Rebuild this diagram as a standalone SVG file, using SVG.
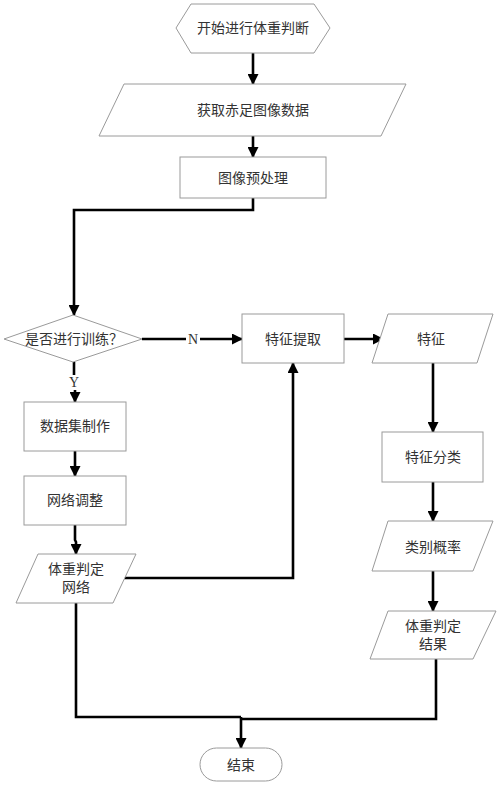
<svg xmlns="http://www.w3.org/2000/svg" width="500" height="786" viewBox="0 0 500 786">
<style>
.s{fill:#fff;stroke:#9a9a9a;stroke-width:1}
.t{font-family:"Liberation Serif","Noto Sans CJK SC",serif;font-size:14px;fill:#333;text-anchor:middle;dominant-baseline:central}
.c{fill:none;stroke:#000;stroke-width:2.6}
.a{marker-end:url(#ah)}
</style>
<defs>
<marker id="ah" markerUnits="userSpaceOnUse" markerWidth="11" markerHeight="11" refX="10" refY="5.5" orient="auto">
<path d="M0,0 L11,5.5 L0,11 z" fill="#000"/>
</marker>
</defs>
<rect width="500" height="786" fill="#fff"/>
<g id="connectors">
<path class="c a" d="M253,53 V84"/>
<path class="c a" d="M253,136 V157"/>
<path class="c a" d="M253,198 V210 H74 V315"/>
<path class="c" d="M142,339 H186"/>
<path class="c a" d="M200,339 H242"/>
<text class="t" x="193" y="339">N</text>
<path class="c" d="M74,362 V375"/>
<text class="t" x="74" y="382">Y</text>
<path class="c a" d="M75,390 V402"/>
<path class="c a" d="M75,451 V476"/>
<path class="c a" d="M75,525 V540 L76,542 V554"/>
<path class="c a" d="M123,578 H293 V363"/>
<path class="c a" d="M344,339 H383"/>
<path class="c a" d="M433,363 V432"/>
<path class="c a" d="M433,482 V521"/>
<path class="c a" d="M433,571 V611"/>
<path class="c" d="M76,603 V717 H241"/>
<path class="c" d="M436,659 V719 H241"/>
<path class="c a" d="M241,717 V748"/>
</g>
<g id="start">
<polygon class="s" points="176,28 191,4 314,4 330,28 314,53 191,53"/>
<text class="t" x="253" y="28">开始进行体重判断</text>
</g>
<g id="getdata">
<polygon class="s" points="124,84 406,84 381,136 99,136"/>
<text class="t" x="253" y="110">获取赤足图像数据</text>
</g>
<g id="preprocess">
<rect class="s" x="180" y="157" width="146" height="41"/>
<text class="t" x="253" y="178">图像预处理</text>
</g>
<g id="decision">
<polygon class="s" points="4,339 73,315 142,339 73,362"/>
<text class="t" x="74" y="339">是否进行训练？</text>
</g>
<g id="dataset">
<rect class="s" x="24" y="402" width="102" height="49"/>
<text class="t" x="75" y="426">数据集制作</text>
</g>
<g id="tune">
<rect class="s" x="24" y="476" width="102" height="49"/>
<text class="t" x="75" y="500">网络调整</text>
</g>
<g id="network">
<polygon class="s" points="38,554 136,554 113,603 16,603"/>
<text class="t" x="76" y="569">体重判定</text>
<text class="t" x="76" y="587">网络</text>
</g>
<g id="extract">
<rect class="s" x="242" y="314" width="102" height="49"/>
<text class="t" x="293" y="339">特征提取</text>
</g>
<g id="feature">
<polygon class="s" points="388,314 493,314 477,363 372,363"/>
<text class="t" x="431" y="339">特征</text>
</g>
<g id="classify">
<rect class="s" x="382" y="432" width="101" height="50"/>
<text class="t" x="433" y="457">特征分类</text>
</g>
<g id="prob">
<polygon class="s" points="388,521 493,521 473,571 372,571"/>
<text class="t" x="433" y="547">类别概率</text>
</g>
<g id="result">
<polygon class="s" points="388,611 496,611 473,659 370,659"/>
<text class="t" x="433" y="626">体重判定</text>
<text class="t" x="433" y="644">结果</text>
</g>
<g id="end">
<rect class="s" x="200" y="748" width="82" height="33" rx="16.5"/>
<text class="t" x="241" y="765">结束</text>
</g>
</svg>
